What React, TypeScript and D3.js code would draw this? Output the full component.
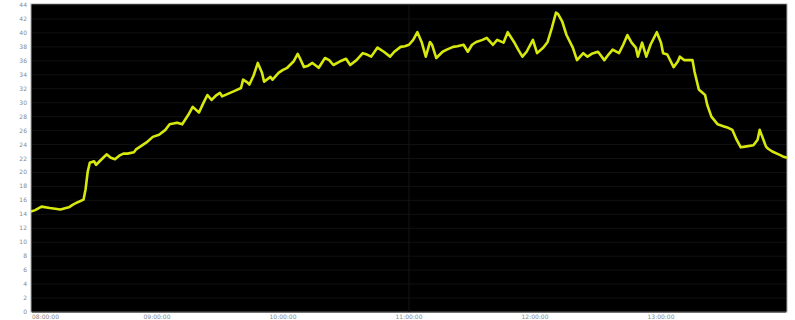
import React from "react";
import * as d3 from "d3";

const minutes = [0,2,5,9,14,18,20,22,25,26,27,28,30,31,34,36,38,40,42,44,46,49,50,52,55,58,61,64,66,69,70,72,75,77,80,82,84,86,88,90,91,94,97,100,101,103,104,106,108,110,111,114,115,118,120,122,125,127,128,130,132,134,137,140,142,144,147,150,152,155,158,160,162,165,168,171,173,176,178,180,182,184,186,188,190,191,193,196,198,201,203,206,208,210,212,215,217,220,222,225,227,230,232,234,236,239,241,244,246,248,250,251,253,255,258,260,263,265,267,270,271,273,275,277,280,282,284,286,288,289,291,293,295,298,300,301,303,306,308,309,311,315,316,318,321,322,324,327,330,332,334,336,338,340,344,346,347,350,351,353,356,358,360];
const values = [14.4,14.6,15.1,14.9,14.7,15.0,15.4,15.7,16.1,17.6,20.1,21.4,21.6,21.1,22.0,22.6,22.1,21.9,22.4,22.7,22.7,22.9,23.3,23.7,24.3,25.1,25.4,26.1,26.9,27.1,27.1,26.9,28.3,29.4,28.6,29.9,31.1,30.4,31.0,31.4,30.9,31.3,31.7,32.1,33.3,32.9,32.6,33.9,35.7,34.3,33.0,33.7,33.3,34.3,34.7,35.0,35.9,37.0,36.4,35.1,35.3,35.7,35.0,36.4,36.1,35.4,35.9,36.3,35.4,36.1,37.1,36.9,36.6,37.9,37.3,36.6,37.3,38.0,38.1,38.3,39.0,40.1,38.7,36.6,38.7,38.3,36.4,37.3,37.6,38.0,38.1,38.3,37.3,38.3,38.7,39.0,39.3,38.3,39.0,38.6,40.1,38.7,37.6,36.6,37.3,39.0,37.1,37.9,38.7,40.7,42.9,42.7,41.6,39.7,37.9,36.1,37.1,36.6,37.0,37.3,36.9,36.1,36.9,37.6,37.1,38.3,39.7,38.6,37.9,36.6,38.6,36.6,38.3,40.1,38.6,37.1,36.9,35.1,35.9,36.6,36.1,36.1,34.4,31.9,31.1,29.7,28.0,26.9,26.6,26.4,26.1,24.7,23.6,23.7,23.9,24.7,26.1,23.7,23.4,23.0,22.6,22.3,22.1];
const yTicks = d3.range(0, 45, 2);
const xTickMinutes = [0, 60, 120, 180, 240, 300];
const xTickLabels = ["08:00:00", "09:00:00", "10:00:00", "11:00:00", "12:00:00", "13:00:00"];

export default function App() {
  const W = 795, H = 320;
  const left = 31, right = 787, top = 5, bottom = 312;
  const x = d3.scaleLinear().domain([0, 360]).range([left, right]);
  const y = d3.scaleLinear().domain([0, 44]).range([bottom, top]);
  const pts = minutes.map((m, i) => [m, values[i]] as [number, number]);
  const line = d3.line<[number, number]>().x(d => x(d[0])).y(d => y(d[1])).curve(d3.curveLinear);
  return (
    <svg width={W} height={H} style={{ position: "absolute", left: 0, top: 0, background: "#fff" }}>
      <rect x={left} y={top - 1} width={right - left} height={bottom - top + 1} fill="#000" stroke="#aaa" strokeWidth={1} />
      {yTicks.map(t => (
        <line key={"g" + t} x1={left + 1} x2={right - 1} y1={y(t)} y2={y(t)} stroke="#111" strokeWidth={1} />
      ))}
      <line x1={x(180)} x2={x(180)} y1={top} y2={bottom} stroke="#141414" strokeWidth={1} />
      {yTicks.map(t => (
        <text key={"t" + t} x={27} y={y(t) + 2} fontSize={6} fill="#888" textAnchor="end" fontFamily="DejaVu Sans">{t}</text>
      ))}
      {xTickMinutes.map((t, i) => (
        <text key={"x" + t} x={i === 0 ? x(t) + 1 : x(t)} y={319} fontSize={6} fill="#888" textAnchor={i === 0 ? "start" : "middle"} fontFamily="DejaVu Sans">{xTickLabels[i]}</text>
      ))}
      <path d={line(pts) || ""} fill="none" stroke="#d6e80c" strokeWidth={2.6} strokeLinejoin="round" />
    </svg>
  );
}
